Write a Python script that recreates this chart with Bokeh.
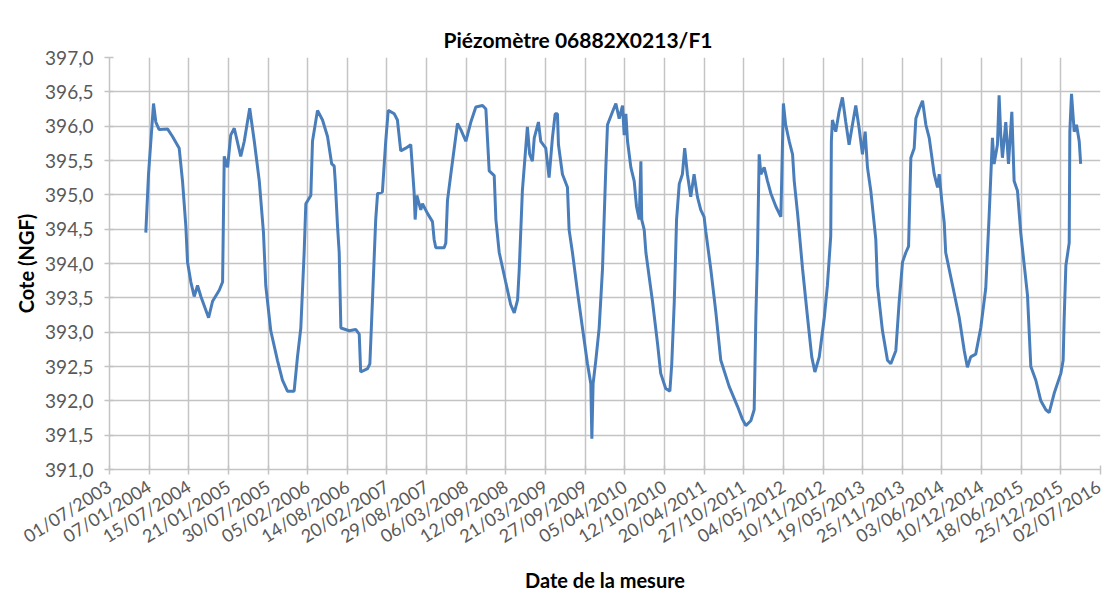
import pandas as pd
from bokeh.plotting import figure
from bokeh.models import FixedTicker, Range1d, Title
from bokeh.embed import file_html
from bokeh.resources import INLINE

title_text = "Piézomètre 06882X0213/F1"
x_title = "Date de la mesure"
y_title = "Cote (NGF)"

dates = [
    "2003-12-22", "2004-01-04", "2004-01-28", "2004-02-08", "2004-02-24", "2004-04-04",
    "2004-04-28", "2004-05-30", "2004-06-15", "2004-07-01", "2004-07-09", "2004-07-25",
    "2004-08-10", "2004-08-26", "2004-09-11", "2004-10-18", "2004-11-06", "2004-12-08",
    "2004-12-24", "2005-01-01", "2005-01-17", "2005-02-01", "2005-02-18", "2005-03-21",
    "2005-04-07", "2005-05-03", "2005-05-25", "2005-06-18", "2005-07-08", "2005-07-19",
    "2005-08-12", "2005-09-13", "2005-10-07", "2005-10-31", "2005-12-02", "2005-12-18",
    "2006-01-03", "2006-01-19", "2006-01-27", "2006-02-20", "2006-02-28", "2006-03-24",
    "2006-04-17", "2006-05-11", "2006-05-31", "2006-06-12", "2006-06-17", "2006-06-28",
    "2006-07-06", "2006-07-14", "2006-08-23", "2006-09-23", "2006-10-10", "2006-10-17",
    "2006-11-19", "2006-11-30", "2006-12-09", "2006-12-28", "2007-01-06", "2007-01-29",
    "2007-02-14", "2007-02-26", "2007-03-27", "2007-04-11", "2007-04-27", "2007-05-21",
    "2007-06-14", "2007-06-30", "2007-07-05", "2007-07-13", "2007-08-01", "2007-08-09",
    "2007-09-02", "2007-09-26", "2007-10-04", "2007-10-12", "2007-11-21", "2007-11-29",
    "2007-12-07", "2007-12-23", "2008-01-24", "2008-02-09", "2008-03-04", "2008-03-28",
    "2008-04-21", "2008-05-23", "2008-06-08", "2008-06-24", "2008-07-18", "2008-07-26",
    "2008-08-11", "2008-09-11", "2008-10-05", "2008-10-22", "2008-11-07", "2008-11-15",
    "2008-11-30", "2008-12-24", "2009-01-04", "2009-01-17", "2009-01-26", "2009-02-15",
    "2009-02-26", "2009-03-22", "2009-04-07", "2009-04-23", "2009-05-06", "2009-05-17",
    "2009-05-22", "2009-06-10", "2009-07-04", "2009-07-12", "2009-07-28", "2009-08-21",
    "2009-09-14", "2009-10-08", "2009-10-24", "2009-10-29", "2009-11-04", "2009-11-17",
    "2009-12-03", "2009-12-19", "2010-01-04", "2010-01-12", "2010-02-05", "2010-02-21",
    "2010-03-09", "2010-03-25", "2010-04-02", "2010-04-10", "2010-04-18", "2010-05-04",
    "2010-05-20", "2010-05-31", "2010-06-13", "2010-06-21", "2010-06-25", "2010-07-07",
    "2010-07-15", "2010-08-16", "2010-09-09", "2010-09-24", "2010-10-18", "2010-11-07",
    "2010-11-16", "2010-11-28", "2010-12-09", "2010-12-22", "2011-01-06", "2011-01-17",
    "2011-01-30", "2011-02-15", "2011-03-03", "2011-03-19", "2011-04-04", "2011-04-20",
    "2011-04-28", "2011-05-22", "2011-06-15", "2011-07-09", "2011-08-18", "2011-09-27",
    "2011-10-21", "2011-11-06", "2011-11-30", "2011-12-16", "2011-12-24", "2012-01-01",
    "2012-01-09", "2012-01-17", "2012-02-02", "2012-02-18", "2012-03-05", "2012-03-29",
    "2012-04-22", "2012-05-04", "2012-05-15", "2012-06-01", "2012-06-17", "2012-06-25",
    "2012-07-11", "2012-08-04", "2012-08-28", "2012-09-17", "2012-10-02", "2012-10-23",
    "2012-11-16", "2012-12-01", "2012-12-17", "2012-12-20", "2012-12-25", "2013-01-10",
    "2013-01-26", "2013-02-11", "2013-02-27", "2013-03-15", "2013-03-31", "2013-04-16",
    "2013-05-02", "2013-05-18", "2013-05-31", "2013-06-11", "2013-06-27", "2013-07-21",
    "2013-07-29", "2013-08-22", "2013-09-15", "2013-10-01", "2013-10-25", "2013-11-10",
    "2013-11-26", "2013-12-12", "2013-12-25", "2014-01-05", "2014-01-21", "2014-01-29",
    "2014-02-14", "2014-03-02", "2014-03-18", "2014-04-03", "2014-04-27", "2014-05-13",
    "2014-05-21", "2014-06-02", "2014-06-14", "2014-06-21", "2014-07-24", "2014-08-25",
    "2014-09-18", "2014-10-03", "2014-10-19", "2014-11-12", "2014-12-06", "2014-12-30",
    "2015-01-15", "2015-01-31", "2015-02-08", "2015-02-24", "2015-03-04", "2015-03-12",
    "2015-03-20", "2015-04-05", "2015-04-18", "2015-05-04", "2015-05-15", "2015-05-31",
    "2015-06-16", "2015-07-18", "2015-08-03", "2015-08-27", "2015-09-20", "2015-10-14",
    "2015-10-30", "2015-11-23", "2015-12-25", "2016-01-05", "2016-01-10", "2016-01-18",
    "2016-02-03", "2016-02-06", "2016-02-14", "2016-02-27", "2016-03-09", "2016-03-22",
    "2016-03-29",
]

levels = [
    394.45, 395.30, 396.33, 396.06, 395.95, 395.96,
    395.85, 395.68, 395.20, 394.54, 394.02, 393.73,
    393.52, 393.68, 393.52, 393.21, 393.45, 393.61,
    393.73, 395.56, 395.40, 395.87, 395.97, 395.56,
    395.78, 396.26, 395.78, 395.20, 394.45, 393.68,
    393.02, 392.59, 392.30, 392.14, 392.14, 392.64,
    393.06, 394.16, 394.87, 394.99, 395.78, 396.23,
    396.09, 395.85, 395.45, 395.42, 395.20, 394.54,
    394.16, 393.06, 393.02, 393.04, 392.97, 392.42,
    392.47, 392.54, 393.21, 394.64, 395.02, 395.04,
    395.78, 396.23, 396.18, 396.09, 395.64, 395.68,
    395.73, 395.04, 394.64, 394.99, 394.78, 394.87,
    394.73, 394.61, 394.35, 394.23, 394.23, 394.30,
    394.92, 395.30, 396.04, 395.95, 395.78, 396.06,
    396.28, 396.30, 396.25, 395.35, 395.28, 394.64,
    394.16, 393.73, 393.40, 393.28, 393.47, 393.92,
    395.06, 395.99, 395.59, 395.49, 395.83, 396.06,
    395.78, 395.68, 395.25, 395.83, 396.18, 396.18,
    395.73, 395.30, 395.11, 394.49, 394.16, 393.59,
    393.06, 392.54, 392.25, 391.45, 392.25, 392.59,
    393.06, 393.92, 395.40, 396.02, 396.21, 396.33,
    396.11, 396.30, 395.87, 396.18, 395.78, 395.40,
    395.20, 394.83, 394.64, 395.49, 394.64, 394.49,
    394.16, 393.44, 392.83, 392.40, 392.18, 392.14,
    392.54, 393.44, 394.64, 395.16, 395.30, 395.68,
    395.30, 394.97, 395.30, 394.97, 394.78, 394.68,
    394.47, 393.92, 393.30, 392.59, 392.21, 391.92,
    391.73, 391.64, 391.71, 391.87, 393.21, 394.16,
    395.59, 395.30, 395.40, 395.20, 395.02, 394.83,
    394.68, 396.33, 396.02, 395.78, 395.59, 395.20,
    394.73, 393.92, 393.21, 392.64, 392.42, 392.64,
    393.21, 393.68, 394.40, 395.78, 396.09, 395.92,
    396.21, 396.42, 396.06, 395.73, 396.02, 396.30,
    395.97, 395.59, 395.92, 395.40, 395.06, 394.35,
    393.68, 393.02, 392.59, 392.54, 392.73, 393.44,
    394.02, 394.16, 394.25, 395.54, 395.68, 396.11,
    396.25, 396.37, 396.02, 395.83, 395.30, 395.11,
    395.30, 394.92, 394.59, 394.16, 393.68, 393.21,
    392.73, 392.49, 392.64, 392.68, 393.06, 393.64,
    394.68, 395.83, 395.45, 395.73, 396.45, 395.87,
    395.54, 396.06, 395.45, 396.21, 395.20, 395.06,
    394.44, 393.54, 392.50, 392.30, 392.00, 391.87,
    391.83, 392.11, 392.40, 392.59, 393.21, 393.97,
    394.30, 395.92, 396.47, 395.92, 396.02, 395.78,
    395.45,
]

x_tick_labels = [
    "01/07/2003", "07/01/2004", "15/07/2004", "21/01/2005", "30/07/2005", "05/02/2006",
    "14/08/2006", "20/02/2007", "29/08/2007", "06/03/2008", "12/09/2008", "21/03/2009",
    "27/09/2009", "05/04/2010", "12/10/2010", "20/04/2011", "27/10/2011", "04/05/2012",
    "10/11/2012", "19/05/2013", "25/11/2013", "03/06/2014", "10/12/2014", "18/06/2015",
    "25/12/2015", "02/07/2016",
]

y_ticks = [391.0, 391.5, 392.0, 392.5, 393.0, 393.5, 394.0, 394.5, 395.0, 395.5, 396.0, 396.5, 397.0]
y_tick_labels = ["391,0", "391,5", "392,0", "392,5", "393,0", "393,5", "394,0",
                 "394,5", "395,0", "395,5", "396,0", "396,5", "397,0"]

x = pd.to_datetime(dates)
tick_dates = pd.to_datetime(x_tick_labels, format="%d/%m/%Y")
tick_ms = [float(t.value // 10**6) for t in tick_dates]

p = figure(
    width=1104, height=595,
    x_axis_type="datetime",
    x_range=Range1d(tick_dates[0], tick_dates[-1]),
    y_range=Range1d(391.0, 397.0),
    output_backend="svg", toolbar_location=None,
    min_border_left=109, min_border_right=4, min_border_top=57, min_border_bottom=118,
)
p.background_fill_color = "white"
p.border_fill_color = "white"
p.outline_line_color = None

p.title = Title(text=title_text, align="left", text_font="Lato", text_font_size="21px",
                text_font_style="bold", text_color="#000000", offset=334, standoff=11)

p.line(x, levels, line_color="#4a7ebb", line_width=3)

grid_color = "#c4c4c4"
p.xaxis.ticker = FixedTicker(ticks=tick_ms)
p.xaxis.major_label_overrides = {t: lab for t, lab in zip(tick_ms, x_tick_labels)}
p.xaxis.major_label_orientation = 0.56
p.yaxis.ticker = FixedTicker(ticks=y_ticks)
p.yaxis.major_label_overrides = {t: lab for t, lab in zip(y_ticks, y_tick_labels)}

for ax in (p.xaxis, p.yaxis):
    ax.axis_line_color = grid_color
    ax.axis_line_width = 1.5
    ax.major_tick_line_color = grid_color
    ax.major_tick_line_width = 1.5
    ax.minor_tick_line_color = None
    ax.major_tick_in = 4
    ax.major_tick_out = 5
    ax.major_label_text_font = "Lato"
    ax.major_label_text_color = "#595959"
    ax.axis_label_text_font = "Lato"
    ax.axis_label_text_font_size = "20px"
    ax.axis_label_text_font_style = "bold"
    ax.axis_label_text_color = "#000000"

p.xaxis.major_label_text_font_size = "18px"
p.yaxis.major_label_text_font_size = "19px"
p.xaxis.axis_label = x_title
p.yaxis.axis_label = y_title
p.xaxis.major_label_standoff = 10
p.yaxis.major_label_standoff = 11
p.xaxis.axis_label_standoff = 9
p.yaxis.axis_label_standoff = 4

p.xgrid.ticker = p.xaxis.ticker
p.ygrid.ticker = p.yaxis.ticker
p.xgrid.grid_line_color = grid_color
p.ygrid.grid_line_color = grid_color
p.xgrid.grid_line_width = 1.5
p.ygrid.grid_line_width = 1.5

open("out.html", "w").write(file_html(p, INLINE))
